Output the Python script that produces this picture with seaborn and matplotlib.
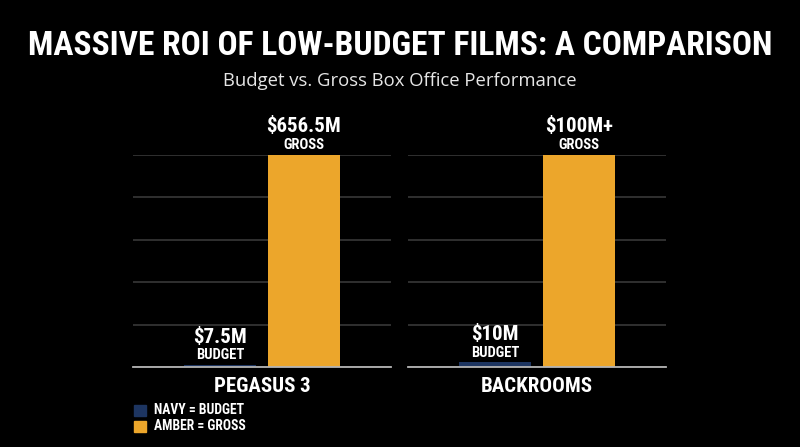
import matplotlib
matplotlib.use("Agg")
import matplotlib.pyplot as plt
from matplotlib import font_manager
import seaborn as sns
import pandas as pd

# ---- data ----
films = ["PEGASUS 3", "BACKROOMS"]
measures = ["Budget", "Gross"]
budget_values = [7.5, 10.0]          # $M
gross_values = [656.5, 450.0]        # $M (Backrooms bar height estimated; labelled "$100M+")
budget_labels = ["$7.5M", "$10M"]
gross_labels = ["$656.5M", "$100M+"]
legend_labels = ["NAVY = BUDGET", "AMBER = GROSS"]

NAVY = "#1d3561"
AMBER = "#eca62b"

sns.set_theme(style="dark")


def pick(cands):
    for c in cands:
        try:
            font_manager.findfont(font_manager.FontProperties(family=c), fallback_to_default=False)
            return c
        except Exception:
            continue
    return "DejaVu Sans"


COND = pick(["Liberation Sans Narrow", "DejaVu Sans Condensed", "Roboto Condensed", "Open Sans Condensed", "Liberation Sans"])
SUB = pick(["Open Sans", "Noto Sans", "DejaVu Sans"])
plt.rcParams["font.family"] = [COND, "DejaVu Sans"]

fig = plt.figure(figsize=(8, 4.47), dpi=100, facecolor="black")

W, H = 800, 447
axes_px = [(133, 258), (408, 258)]
top_px, base_px = 155, 367

for i, film in enumerate(films):
    left, width = axes_px[i]
    ax = fig.add_axes([left / W, (H - base_px) / H, width / W, (base_px - top_px) / H])
    ax.set_facecolor("black")
    df = pd.DataFrame({"measure": measures, "value": [budget_values[i], gross_values[i]]})
    sns.barplot(data=df, x="measure", y="value", hue="measure", palette=[NAVY, AMBER],
                width=0.857, ax=ax, legend=False, saturation=1, linewidth=0, edgecolor="none")
    ymax = gross_values[i]
    ax.set_ylim(0, ymax)
    ax.set_xlim(-1.036, 2.036)
    ax.set_yticks([ymax * k / 5 for k in range(6)])
    ax.set_xticks([])
    ax.tick_params(axis="y", length=0, labelleft=False)
    ax.grid(True, axis="y", color="#383838", linewidth=1.2)
    ax.grid(False, axis="x")
    ax.set_axisbelow(True)
    for s in ["left", "right", "top"]:
        ax.spines[s].set_visible(False)
    ax.spines["bottom"].set_color("#b5b5b5")
    ax.spines["bottom"].set_linewidth(1.3)
    ax.set_xlabel("")
    ax.set_ylabel("")
    # value labels
    ax.annotate(budget_labels[i], (0, budget_values[i]), xytext=(0, 13), textcoords="offset points",
                ha="center", va="bottom", color="white", fontsize=15, fontweight="bold", annotation_clip=False)
    ax.annotate("BUDGET", (0, budget_values[i]), xytext=(0, 2), textcoords="offset points",
                ha="center", va="bottom", color="white", fontsize=10.5, fontweight="bold", annotation_clip=False)
    ax.annotate(gross_labels[i], (1, gross_values[i]), xytext=(0, 14), textcoords="offset points",
                ha="center", va="bottom", color="white", fontsize=15, fontweight="bold", annotation_clip=False)
    ax.annotate("GROSS", (1, gross_values[i]), xytext=(0, 2), textcoords="offset points",
                ha="center", va="bottom", color="white", fontsize=10.5, fontweight="bold", annotation_clip=False)
    # film label
    fig.text((left + width / 2) / W, 1 - 386 / H, film, ha="center", va="center", color="white",
             fontsize=15, fontweight="bold")

# title fitted to width
title = fig.text(0.5, 1 - 46 / H, "MASSIVE ROI OF LOW-BUDGET FILMS: A COMPARISON", ha="center", va="center",
                 color="white", fontsize=30, fontweight="bold")
fig.canvas.draw()
r = fig.canvas.get_renderer()
wpx = title.get_window_extent(r).width
title.set_fontsize(30 * 745 / wpx)

fig.text(0.5, 1 - 81 / H, "Budget vs. Gross Box Office Performance", ha="center", va="center",
         color="#e6e6e6", fontsize=13.3, family=[SUB, "DejaVu Sans"])

# legend
for j, (lab, col) in enumerate(zip(legend_labels, [NAVY, AMBER])):
    y = 410 + j * 16
    fig.patches.append(plt.Rectangle((134 / W, 1 - (y + 6) / H), 12 / W, 11 / H, transform=fig.transFigure,
                                     color=col, figure=fig))
    fig.text(154 / W, 1 - (y + 0.5) / H, lab, ha="left", va="center", color="white", fontsize=9.8,
             fontweight="bold")

fig.savefig("out.png", dpi=100, facecolor="black")
